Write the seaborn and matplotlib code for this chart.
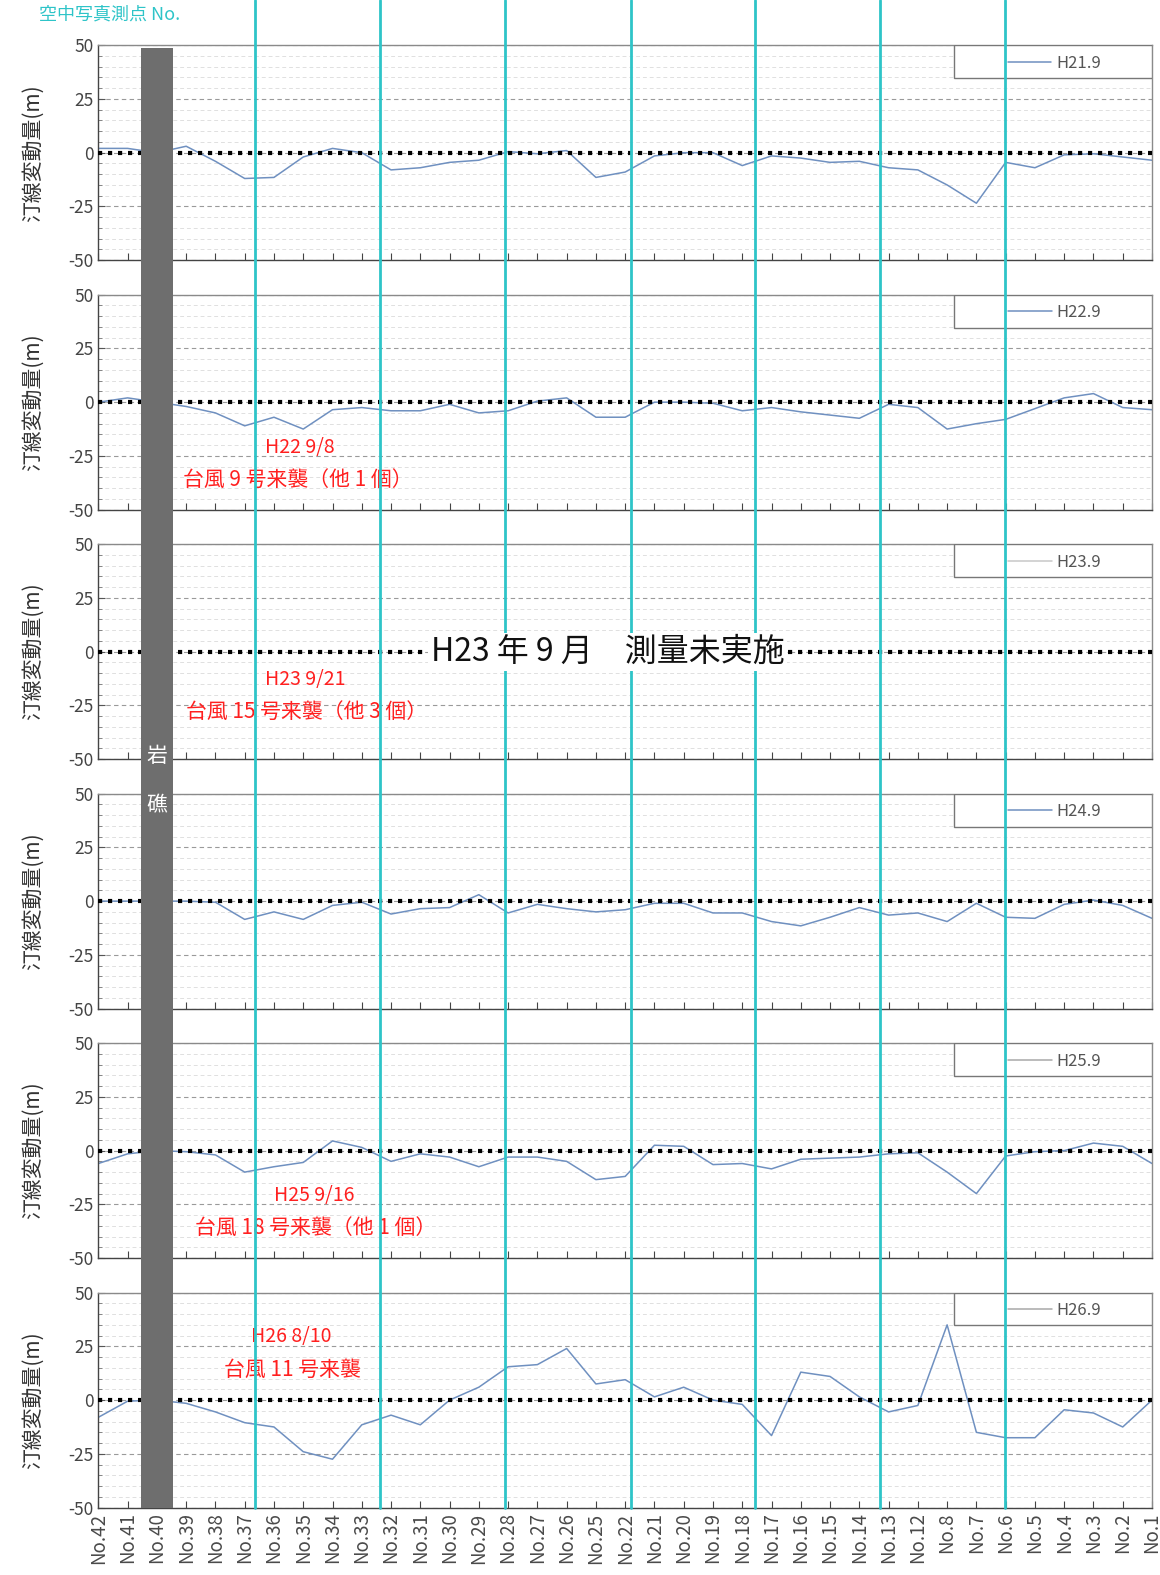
import matplotlib
matplotlib.use('Agg')
import matplotlib.pyplot as plt
import matplotlib.transforms as mtransforms
from matplotlib.patches import Rectangle
from matplotlib.lines import Line2D
from matplotlib.ticker import MultipleLocator
import seaborn as sns
import pandas as pd

# survey points along the coast (x axis, left to right)
points = ['No.42', 'No.41', 'No.40', 'No.39', 'No.38', 'No.37', 'No.36', 'No.35', 'No.34',
          'No.33', 'No.32', 'No.31', 'No.30', 'No.29', 'No.28', 'No.27', 'No.26', 'No.25',
          'No.22', 'No.21', 'No.20', 'No.19', 'No.18', 'No.17', 'No.16', 'No.15', 'No.14',
          'No.13', 'No.12', 'No.8', 'No.7', 'No.6', 'No.5', 'No.4', 'No.3', 'No.2', 'No.1']

# shoreline change (m) per survey
h21 = [2, 2, 0, 3, -4, -12, -11.5, -2, 2, 0, -8, -7, -4.5, -3.5, 0.5, -0.5, 1, -11.5, -9,
       -1.5, 0, 0, -6, -1.5, -2.5, -4.5, -4, -7, -8, -15, -23.5, -4.5, -7, -1, -0.5, -2, -3.5]
h22 = [0, 2, 0, -2, -5, -11, -7, -12.5, -3.5, -2.5, -4, -4, -1, -5, -4, 0.5, 2, -7, -7,
       0, 0, -0.5, -4, -2.5, -4.5, -6, -7.5, -1, -2.5, -12.5, -10, -8, -3, 2, 4, -2.5, -3.5]
h23 = []  # not surveyed
h24 = [0, 0, 0, 0, -0.5, -8.5, -5, -8.5, -2, -0.5, -6, -3.5, -3, 3, -5.5, -1.5, -3.5, -5, -4,
       -1, -1, -5.5, -5.5, -9.5, -11.5, -7.5, -3, -6.5, -5.5, -9.5, -1, -7.5, -8, -1.5, 0.5, -2, -8]
h25 = [-6, -1.5, 0, -0.5, -2, -10, -7.5, -5.5, 4.5, 1.5, -5, -1.5, -3, -7.5, -3, -3, -5, -13.5, -12,
       2.5, 2, -6.5, -6, -8.5, -4, -3.5, -3, -1.5, -1, -10, -20, -2.5, -0.5, 0, 3.5, 2, -6]
h26 = [-8, -0.5, 0, -1.5, -5.5, -10.5, -12.5, -24, -27.5, -11.5, -7, -11.5, 0, 6, 15.5, 16.5, 24, 7.5, 9.5,
       1.5, 6, 0, -2, -16.5, 13, 11, 1.5, -5.5, -2.5, 35, -15, -17.5, -17.5, -4.5, -6, -12.5, 0]

surveys = ['H21.9', 'H22.9', 'H23.9', 'H24.9', 'H25.9', 'H26.9']
series = [h21, h22, h23, h24, h25, h26]
legend_colors = ['#6f90c0', '#6f90c0', '#c8c8c8', '#6f90c0', '#a8a8a8', '#a8a8a8']

# typhoon notes per panel: (date, text)
notes = {
    1: ('H22 9/8', '台風 9 号来襲（他 1 個）'),
    2: ('H23 9/21', '台風 15 号来襲（他 3 個）'),
    4: ('H25 9/16', '台風 18 号来襲（他 1 個）'),
    5: ('H26 8/10', '台風 11 号来襲'),
}
note_pos = {1: (5.7, -21, 2.9, -36), 2: (5.7, -13, 3.0, -28),
            4: (6.0, -21, 3.3, -36), 5: (5.2, 29.5, 4.3, 14)}

# aerial photo survey point positions (between survey points)
photo_x = [5.36, 9.63, 13.9, 18.19, 22.42, 26.72, 30.98]

sns.set_style('white')
plt.rcParams['font.family'] = ['Noto Sans CJK JP', 'DejaVu Sans']
plt.rcParams['axes.unicode_minus'] = False

line_color = '#6f90c0'
cyan = '#2ec4c8'

fig = plt.figure(figsize=(11.6, 15.75), dpi=100)
left, width = 0.0848, 0.9083
top0, height, step = 0.9713, 0.1365, 0.1584

axes = []
for i, (name, vals) in enumerate(zip(surveys, series)):
    ax = fig.add_axes([left, top0 - height - step * i, width, height])
    axes.append(ax)
    ax.set_xlim(0, len(points) - 1)
    ax.set_ylim(-50, 50)
    ax.set_yticks([-50, -25, 0, 25, 50])
    ax.yaxis.set_minor_locator(MultipleLocator(5))
    ax.set_xticks(range(len(points)))
    ax.grid(axis='y', which='major', color='#9a9a9a', ls=(0, (4, 3)), lw=0.8)
    ax.grid(axis='y', which='minor', color='#e0e0e0', ls=(0, (4, 3)), lw=0.7)
    ax.tick_params(axis='y', which='major', direction='in', length=5, left=True,
                   labelsize=12.5, labelcolor='#444444', color='#555555')
    ax.tick_params(axis='y', which='minor', direction='in', length=3, left=True, color='#777777')
    ax.tick_params(axis='x', direction='in', length=5, bottom=True, color='#444444',
                   labelsize=13.5, labelcolor='#4a4a4a', labelrotation=90)
    for s in ['top', 'right']:
        ax.spines[s].set_color('#8a8a8a')
    for s in ['left', 'bottom']:
        ax.spines[s].set_color('#444444')
    for s in ax.spines.values():
        s.set_linewidth(1.0)

    if vals:
        df = pd.DataFrame({'pos': range(len(points)), 'value': vals})
        sns.lineplot(data=df, x='pos', y='value', ax=ax, color=line_color, lw=1.1,
                     legend=False, zorder=2)
    ax.plot([], [], color=legend_colors[i], lw=1.1, label=name)

    ax.axhline(0, color='black', ls=(0, (1, 1.4)), lw=3, zorder=3)

    ax.set_xlabel('')
    ax.set_ylabel('汀線変動量(m)', fontsize=15, color='#333333')
    ax.yaxis.set_label_coords(-0.052, 0.5)

    # legend box like the spreadsheet original
    ax.add_patch(Rectangle((0.812, 0.847), 0.188, 0.153, transform=ax.transAxes,
                           facecolor='white', edgecolor='#777777', lw=1.0, zorder=6))
    ax.legend(loc='upper right', bbox_to_anchor=(0.966, 1.025), frameon=False,
              fontsize=12, handlelength=2.6, handletextpad=0.3,
              labelcolor='#555555').set_zorder(7)

    if i < len(surveys) - 1:
        ax.tick_params(axis='x', labelbottom=False)
    else:
        ax.set_xticklabels(points)

    if i in notes:
        date, txt = notes[i]
        x1, y1, x2, y2 = note_pos[i]
        ax.text(x1, y1, date, color='#ff2020', fontsize=14, va='center', ha='left', zorder=5)
        ax.text(x2, y2, txt, color='#ff2020', fontsize=15, va='center', ha='left', zorder=5)

ax_top, ax_bot = axes[0], axes[-1]
to_fig = fig.transFigure.inverted()

# aerial photo lines through all panels
bl = mtransforms.blended_transform_factory(ax_bot.transData, fig.transFigure)
y_bottom = to_fig.transform(ax_bot.transData.transform((0, -50)))[1]
for xp in photo_x:
    fig.add_artist(Line2D([xp, xp], [y_bottom, 1.0], transform=bl, color=cyan, lw=2, zorder=3))

# reef band
y_reef_top = to_fig.transform(ax_top.transData.transform((0, 48.5)))[1]
fig.add_artist(Rectangle((1.45, y_bottom), 1.1, y_reef_top - y_bottom, transform=bl,
                         facecolor='#6e6e6e', edgecolor='none', zorder=3.5))
mid = to_fig.transform(axes[2].transData.transform((0, -50)))[1]
fig.text(2.0, mid + 0.002, '岩', transform=bl, color='white', fontsize=15,
         ha='center', va='center', zorder=4)
fig.text(2.0, mid - 0.029, '礁', transform=bl, color='white', fontsize=15,
         ha='center', va='center', zorder=4)

# H23 not surveyed
fig.text(17.4, 0, 'H23 年 9 月　測量未実施', transform=axes[2].transData, fontsize=23,
         color='#111111', ha='center', va='center', zorder=6,
         bbox=dict(facecolor='white', edgecolor='none', pad=2))

fig.text(0.034, 0.991, '空中写真測点 No.', color=cyan, fontsize=13, ha='left', va='center')

fig.savefig('out.png', dpi=100)
